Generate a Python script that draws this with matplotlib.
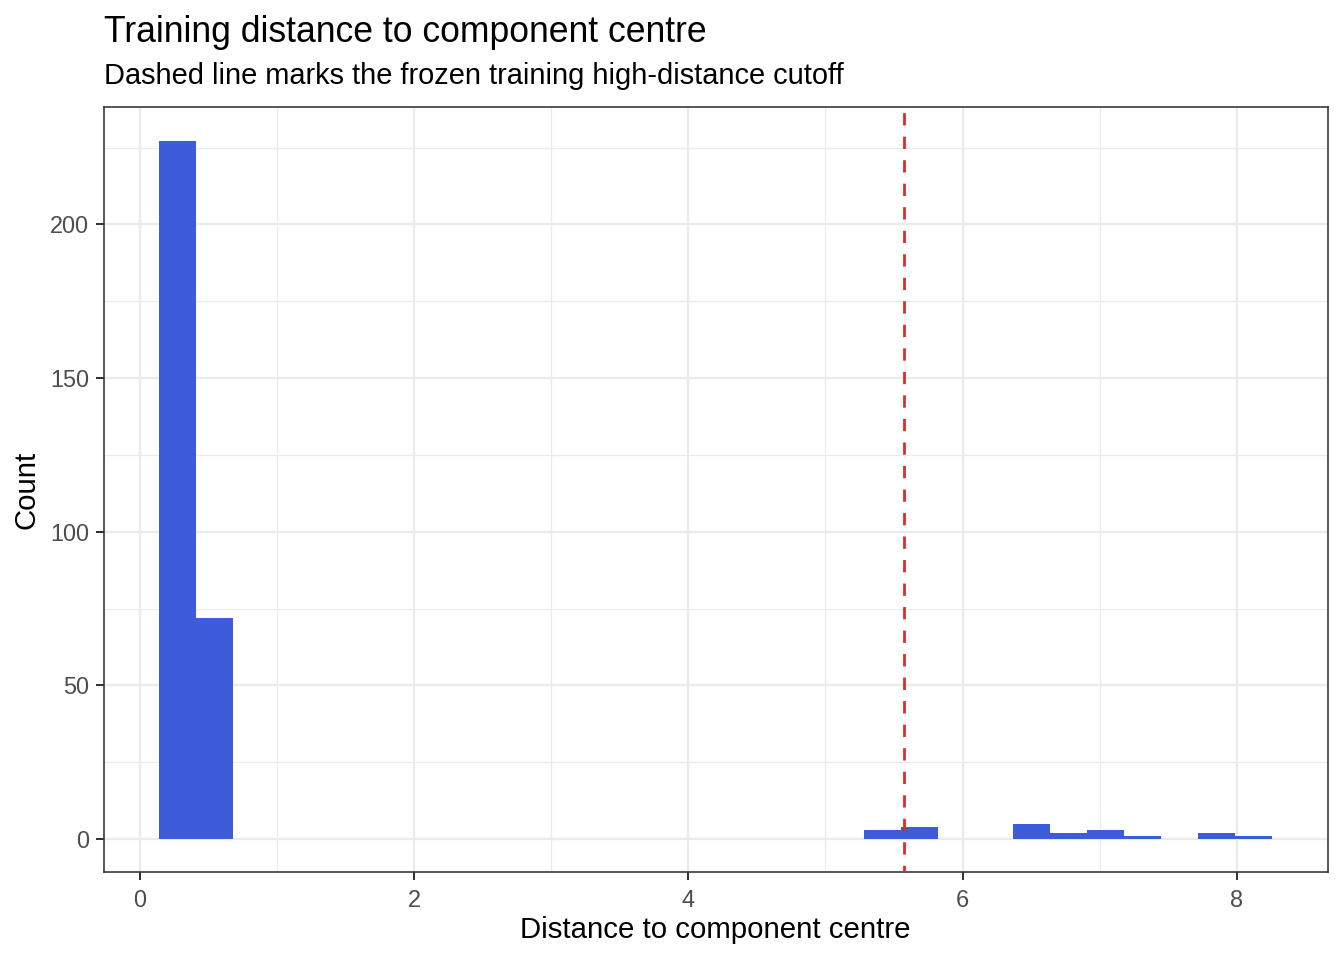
import numpy as np
import matplotlib.pyplot as plt

# histogram: 30 equal bins
bin_start = 0.143
bin_width = 0.2705
counts = [227, 72, 0, 0, 0, 0, 0, 0, 0, 0,
          0, 0, 0, 0, 0, 0, 0, 0, 0, 3,
          4, 0, 0, 5, 2, 3, 1, 0, 2, 1]
cutoff = 5.575

title = "Training distance to component centre"
subtitle = "Dashed line marks the frozen training high-distance cutoff"
xlabel = "Distance to component centre"
ylabel = "Count"

plt.rcParams['font.family'] = ['Liberation Sans', 'DejaVu Sans']

fig = plt.figure(figsize=(7, 5), dpi=192)
ax = fig.add_axes([103.5 / 1344, 1 - 872.3 / 960, (1328 - 103.5) / 1344, (872.3 - 107.3) / 960])

lefts = bin_start + bin_width * np.arange(len(counts))
ax.bar(lefts, counts, width=bin_width, align='edge', color='#3D5CDB', linewidth=0, zorder=2)
ax.axvline(cutoff, color='#D62F2F', lw=1.05, linestyle=(2.0, (4.4, 4.0)), zorder=3)

xmin, xmax = bin_start, bin_start + bin_width * len(counts)
pad = 0.05 * (xmax - xmin)
ax.set_xlim(xmin - pad, xmax + pad)
ax.set_ylim(-0.0478 * max(counts), 1.049 * max(counts))

ax.set_xticks([0, 2, 4, 6, 8])
ax.set_xticks([1, 3, 5, 7], minor=True)
ax.set_yticks([0, 50, 100, 150, 200])
ax.set_yticks([25, 75, 125, 175, 225], minor=True)
ax.grid(which='major', color='#EBEBEB', lw=0.85, zorder=0)
ax.grid(which='minor', color='#EBEBEB', lw=0.45, zorder=0)
ax.set_axisbelow(True)

for s in ax.spines.values():
    s.set_color('#333333')
    s.set_linewidth(0.6)
ax.tick_params(which='major', length=2.9, width=0.75, color='#333333',
               labelcolor='#4D4D4D', labelsize=8.8)
ax.tick_params(axis='x', pad=3.3)
ax.tick_params(axis='y', pad=2.6)
ax.tick_params(which='minor', length=0)

fig.text(104 / 1344, 1 - 41.7 / 960, title, fontsize=13.33, va='baseline', ha='left')
fig.text(104 / 1344, 1 - 84 / 960, subtitle, fontsize=10.9, va='baseline', ha='left')
fig.text((103 + 1328) / 2 / 1344, 1 - 938 / 960, xlabel, fontsize=11, va='baseline', ha='center')
fig.text(26 / 1344, 1 - (107 + 872) / 2 / 960, ylabel, fontsize=11, va='center', ha='center',
         rotation=90)

fig.savefig('out.png', dpi=192)
